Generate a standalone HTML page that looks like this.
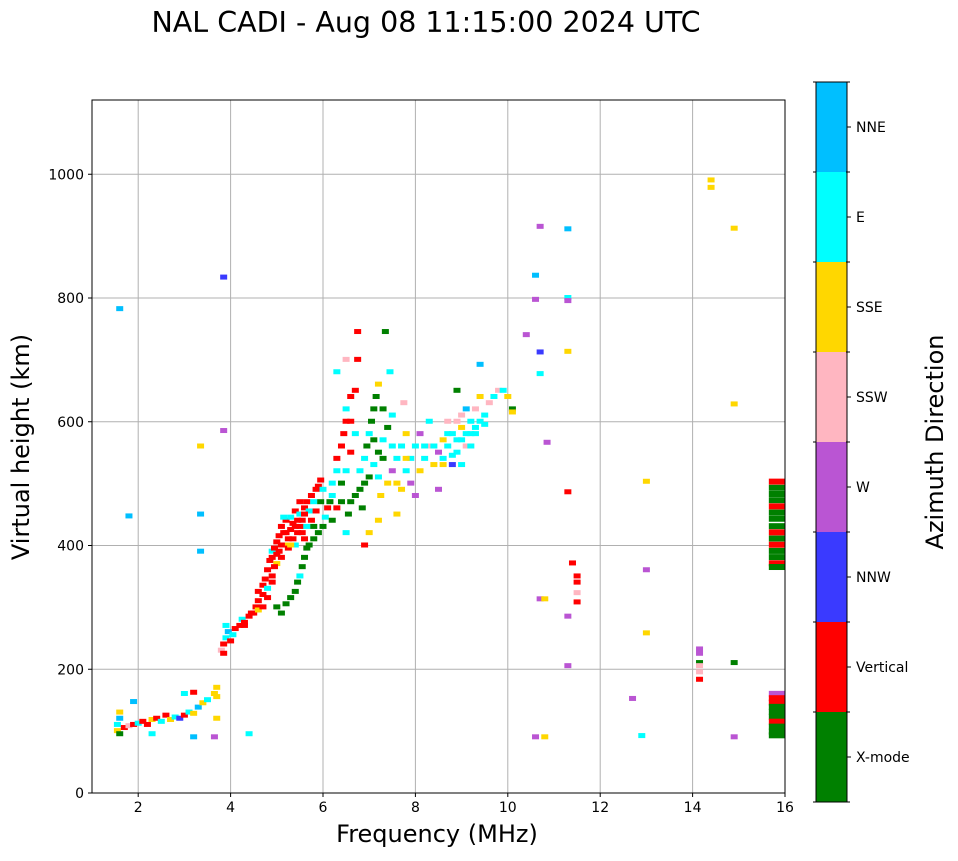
<!DOCTYPE html>
<html><head><meta charset="utf-8">
<style>
body{margin:0;background:#fff;font-family:"DejaVu Sans","Liberation Sans",sans-serif;}
svg text{font-family:"DejaVu Sans","Liberation Sans",sans-serif;fill:#000;}
</style></head>
<body>
<svg id="chart" width="958" height="857" xmlns="http://www.w3.org/2000/svg">
<text x="426" y="32" font-size="28.5" text-anchor="middle">NAL CADI - Aug 08 11:15:00 2024 UTC</text>
<g id="grid"></g>
<g id="marks"></g>
<rect x="92" y="100" width="693" height="693" fill="none" stroke="#000" stroke-width="1"/>
<g id="ticks"></g>
<text x="437" y="842" font-size="24" text-anchor="middle">Frequency (MHz)</text>
<text transform="translate(29,447) rotate(-90)" font-size="24" text-anchor="middle">Virtual height (km)</text>
<g id="cbar"></g>
<text transform="translate(943,442) rotate(-90)" font-size="24" text-anchor="middle">Azimuth Direction</text>
</svg>
<script>
const directions=["X-mode","Vertical","NNW","W","SSW","SSE","E","NNE"];
const dirColors=["#008000","#ff0000","#3a3aff","#ba55d3","#ffb6c1","#ffd700","#00ffff","#00bfff"];
const xTicks=[2,4,6,8,10,12,14,16];
const yTicks=[0,200,400,600,800,1000];
const echoes="1.55,100,5;1.55,110,6;1.6,120,7;1.6,130,5;1.6,95,0;1.7,105,1;1.8,108,4;1.9,110,1;2.0,112,6;2.1,115,1;2.2,110,1;2.3,118,5;2.4,120,1;2.5,115,6;2.6,125,1;2.7,118,5;2.8,122,6;2.9,120,2;3.0,125,1;3.1,130,6;3.2,128,5;3.3,138,7;3.4,145,5;3.5,150,6;3.65,160,5;3.7,170,5;3.7,155,5;2.3,95,6;3.0,160,6;3.2,162,1;1.6,782,7;1.8,447,7;3.35,450,7;3.35,390,7;3.35,560,5;3.7,120,5;3.65,90,3;4.4,95,6;3.2,90,7;1.9,147,7;3.8,230,4;3.85,240,1;3.9,250,6;3.95,260,7;4.0,245,1;4.05,255,6;4.1,265,1;4.2,270,1;4.25,280,6;4.3,275,1;4.4,285,1;3.85,225,1;3.9,270,6;3.85,833,2;3.85,585,3;4.5,290,1;4.55,300,1;4.6,310,1;4.6,295,5;4.7,320,1;4.7,335,1;4.75,345,1;4.8,330,6;4.8,360,1;4.85,375,1;4.9,350,1;4.9,390,6;4.95,395,1;5.0,405,1;5.0,370,5;5.05,415,1;5.1,430,1;5.1,380,1;5.15,420,1;5.2,440,1;5.2,400,5;5.25,410,1;5.3,445,6;5.3,425,1;5.35,435,1;5.4,455,1;5.4,400,6;5.45,420,1;5.5,450,6;5.5,430,1;5.55,440,1;5.6,460,1;5.6,410,1;5.65,470,1;5.7,455,6;5.75,480,1;5.8,470,6;5.85,490,1;5.9,495,1;5.95,505,1;6.0,490,6;5.0,300,0;5.1,290,0;5.2,305,0;5.3,315,0;5.4,325,0;5.45,340,0;5.5,350,6;5.55,365,0;5.6,380,0;5.65,395,0;5.7,400,0;5.8,410,0;5.9,420,0;6.0,430,0;6.05,445,6;6.1,460,1;6.15,470,0;6.2,480,6;6.3,520,6;6.3,540,1;6.4,560,1;6.4,500,0;6.45,580,1;6.5,600,1;6.5,620,6;6.5,420,6;6.55,450,0;6.6,470,0;6.6,640,1;6.7,650,1;6.7,480,0;6.75,700,1;6.75,745,1;6.8,490,0;6.8,520,6;6.85,460,0;6.9,500,0;6.9,540,6;6.95,560,0;7.0,510,0;7.0,580,6;7.05,600,0;7.1,530,6;7.1,620,0;7.15,640,0;7.2,550,0;7.2,660,5;7.25,480,5;7.3,570,6;7.3,620,0;7.35,745,0;7.4,590,0;7.4,500,5;7.45,680,6;7.5,610,6;7.5,520,3;7.6,540,6;7.6,450,5;7.7,560,6;7.7,490,5;7.75,630,4;7.8,520,6;7.8,580,5;7.9,540,6;7.9,500,3;8.0,560,6;8.0,480,3;6.9,400,1;7.0,420,5;7.2,440,5;6.6,600,1;6.7,580,6;6.3,680,6;6.5,700,4;8.1,520,5;8.1,580,3;8.2,540,6;8.3,560,4;8.3,600,6;8.4,530,5;8.5,550,3;8.5,490,3;8.6,570,5;8.6,540,6;8.7,560,6;8.7,600,4;8.8,580,6;8.8,530,2;8.9,600,4;8.9,550,6;9.0,590,5;9.0,570,6;9.0,530,6;9.1,620,7;9.1,560,4;9.2,600,6;9.2,580,6;9.3,620,4;9.3,590,6;9.4,640,5;9.4,600,6;9.5,610,6;9.6,630,4;9.7,640,6;9.8,650,4;9.9,650,6;10.0,640,5;10.1,620,0;10.1,615,5;8.9,650,0;9.4,692,7;10.4,740,3;10.6,836,7;10.6,797,3;10.7,712,2;10.7,677,6;10.7,915,3;10.85,566,3;10.7,313,3;10.8,313,5;10.6,90,3;10.8,90,5;11.3,911,7;11.3,800,6;11.3,795,3;11.3,713,5;11.3,486,1;11.3,285,3;11.3,205,3;11.4,371,1;11.5,350,1;11.5,340,1;11.5,323,4;11.5,308,1;12.7,152,3;12.9,92,6;13.0,503,5;13.0,360,3;13.0,258,5;14.15,232,3;14.15,225,3;14.15,210,0;14.15,205,4;14.15,195,4;14.15,183,1;14.4,990,5;14.4,978,5;14.9,912,5;14.9,628,5;14.9,210,0;14.9,90,3;4.7,300,1;4.8,315,1;4.9,340,1;4.95,365,1;5.05,390,1;5.1,400,1;5.2,420,1;5.25,395,1;5.35,410,1;5.45,440,1;5.55,420,1;5.65,430,6;5.75,440,1;5.85,455,1;5.95,470,0;4.9,380,1;5.0,385,1;5.15,445,6;5.3,400,5;5.6,450,1;5.8,430,0;6.2,440,0;6.3,460,1;6.2,500,6;6.4,470,0;6.5,520,6;6.6,550,1;7.1,570,0;7.2,510,6;7.3,540,0;7.5,560,6;7.6,500,5;7.8,540,5;8.2,560,6;8.4,560,6;8.6,530,5;8.7,580,6;8.8,545,6;8.9,570,6;9.0,610,4;9.1,580,6;9.2,560,6;9.3,580,6;9.5,595,6;5.4,430,1;5.5,470,1;4.3,270,1;4.45,290,1;4.6,325,1";
const edgeHeights=[500,490,480,470,460,450,440,428,418,408,398,388,378,368,362,157,150,143,136,128,120,112,104,96,90];
const edgeDirs=[1,0,0,0,1,0,0,0,1,0,1,0,0,1,0,3,1,1,0,0,0,1,0,0,0];
const NS="http://www.w3.org/2000/svg";
const X0=92,X1=785,Y0=793,Y1=100,FMIN=1,FMAX=16,HMIN=0,HMAX=1120;
function xs(f){return X0+(f-FMIN)/(FMAX-FMIN)*(X1-X0);}
function ys(h){return Y0-(h-HMIN)/(HMAX-HMIN)*(Y0-Y1);}
function mk(tag,attrs,parent){const e=document.createElementNS(NS,tag);for(const k in attrs)e.setAttribute(k,attrs[k]);parent.appendChild(e);return e;}
const grid=document.getElementById('grid'),ticks=document.getElementById('ticks'),marks=document.getElementById('marks'),cbar=document.getElementById('cbar');
xTicks.forEach(v=>{
  const x=xs(v);
  const g=mk('line',{x1:x,x2:x,y1:Y1,y2:Y0,stroke:'#b0b0b0','stroke-width':1},grid);
  
  
  mk('line',{x1:x,x2:x,y1:Y0,y2:Y0+4,stroke:'#000'},ticks);
  const t=mk('text',{x:x,y:Y0+19,'font-size':14,'text-anchor':'middle'},ticks);t.textContent=v;
  
  
});
yTicks.forEach(v=>{
  const y=ys(v);
  const g=mk('line',{x1:X0,x2:X1,y1:y,y2:y,stroke:'#b0b0b0','stroke-width':1},grid);
  
  
  mk('line',{x1:X0-4,x2:X0,y1:y,y2:y,stroke:'#000'},ticks);
  const t=mk('text',{x:X0-8,y:y+5,'font-size':14,'text-anchor':'end'},ticks);t.textContent=v;
  
  
});
echoes.split(';').forEach(s=>{
  const [f,h,d]=s.split(',').map(Number);
  const r=mk('rect',{x:xs(f)-3.5,y:ys(h)-3,width:7,height:5,fill:dirColors[d]},marks);
  
  
});
edgeHeights.forEach((h,i)=>{
  const r=mk('rect',{x:xs(15.65),y:ys(h)-5,width:X1-xs(15.65),height:6,fill:dirColors[edgeDirs[i]]},marks);
  
  
});
const CX=816,CW=31,CT=82,CH=90;
directions.forEach((d,i)=>{
  const idx=directions.length-1-i;
  const y=CT+i*CH;
  const r=mk('rect',{x:CX,y:y,width:CW,height:CH,fill:dirColors[idx]},cbar);
  
  
  mk('line',{x1:CX+CW,x2:CX+CW+4,y1:y+CH/2,y2:y+CH/2,stroke:'#000'},cbar);
  const t=mk('text',{x:CX+CW+9,y:y+CH/2+5,'font-size':14},cbar);t.textContent=directions[idx];
  
  
});
for(let i=0;i<=8;i++){mk('line',{x1:CX+CW-1,x2:CX+CW+3,y1:CT+i*CH,y2:CT+i*CH,stroke:'#000'},cbar);mk('line',{x1:CX-3,x2:CX,y1:CT+i*CH,y2:CT+i*CH,stroke:'#000'},cbar);}
mk('rect',{x:CX,y:CT,width:CW,height:CH*8,fill:'none',stroke:'#000'},cbar);
</script>
</body></html>
